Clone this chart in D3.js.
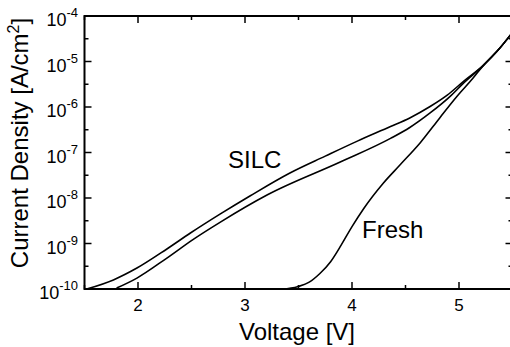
<!DOCTYPE html>
<html>
<head>
<meta charset="utf-8">
<script src="https://cdn.jsdelivr.net/npm/d3@7"></script>
<style>
body { margin: 0; background: #fff; }
svg { display: block; font-family: "Liberation Sans", Arial, sans-serif; }
.line { fill: none; stroke: #000; stroke-width: 1.6; }
</style>
</head>
<body>
<svg id="chart" width="510" height="347"></svg>
<script>
// values (current density as log10 of A/cm2)
var silcUpperV = [1.52, 1.77, 1.99, 2.27, 2.49, 2.77, 3.05, 3.42, 3.75, 4.05, 4.36, 4.54, 4.73, 4.89, 5.04, 5.23, 5.38, 5.48]
var silcUpperLogJ = [-10.0, -9.80, -9.54, -9.12, -8.77, -8.35, -7.95, -7.45, -7.08, -6.75, -6.43, -6.24, -5.99, -5.74, -5.44, -5.08, -4.71, -4.42]

var silcLowerV = [1.80, 1.99, 2.27, 2.51, 2.77, 3.21, 3.89, 4.36, 4.54, 4.73, 4.92, 5.04, 5.23, 5.38, 5.48]
var silcLowerLogJ = [-9.98, -9.76, -9.32, -8.92, -8.53, -7.93, -7.21, -6.69, -6.45, -6.13, -5.76, -5.48, -5.08, -4.71, -4.42]

var freshV = [3.25, 3.36, 3.49, 3.60, 3.70, 3.80, 3.90, 4.00, 4.11, 4.29, 4.45, 4.64, 4.82, 4.98, 5.13, 5.23, 5.38, 5.48]
var freshLogJ = [-10.15, -10.02, -9.95, -9.85, -9.66, -9.40, -9.03, -8.63, -8.23, -7.68, -7.27, -6.78, -6.24, -5.77, -5.37, -5.08, -4.71, -4.42]

var xTicks = [2, 3, 4, 5]
var xMinorTicks = [1.5, 2.5, 3.5, 4.5, 5.5]
var yExponents = [-4, -5, -6, -7, -8, -9, -10]

var plot = { left: 84.5, right: 512.5, top: 16, bottom: 289 }

var svg = d3.select("#chart")

var x = d3.scaleLinear().domain([1.5, 5.5]).range([plot.left, plot.right])
var y = d3.scaleLog().domain([1e-10, 1e-4]).range([plot.bottom, plot.top])

svg.append("clipPath").attr("id", "clip")
    .append("rect")
    .attr("x", plot.left).attr("y", plot.top)
    .attr("width", plot.right - plot.left).attr("height", plot.bottom - plot.top)

var line = d3.line()
    .x(d => x(d[0]))
    .y(d => y(d[1]))
    .curve(d3.curveMonotoneX)

function series(vs, logs) {
    return vs.map((v, i) => [v, Math.pow(10, logs[i])])
}

var curves = svg.append("g").attr("clip-path", "url(#clip)")
curves.append("path").attr("class", "line").attr("d", line(series(silcUpperV, silcUpperLogJ)))
curves.append("path").attr("class", "line").attr("d", line(series(silcLowerV, silcLowerLogJ)))
curves.append("path").attr("class", "line").attr("d", line(series(freshV, freshLogJ)))

// frame
svg.append("rect")
    .attr("x", plot.left).attr("y", plot.top)
    .attr("width", plot.right - plot.left).attr("height", plot.bottom - plot.top)
    .attr("fill", "none").attr("stroke", "#000").attr("stroke-width", 2)

// x ticks (bottom + top, pointing inward)
var ticks = svg.append("g").attr("stroke", "#000").attr("stroke-width", 1.5)
xTicks.forEach(t => {
    ticks.append("line").attr("x1", x(t)).attr("x2", x(t)).attr("y1", plot.bottom).attr("y2", plot.bottom - 7)
    ticks.append("line").attr("x1", x(t)).attr("x2", x(t)).attr("y1", plot.top).attr("y2", plot.top + 7)
})
xMinorTicks.forEach(t => {
    ticks.append("line").attr("x1", x(t)).attr("x2", x(t)).attr("y1", plot.bottom).attr("y2", plot.bottom - 4)
    ticks.append("line").attr("x1", x(t)).attr("x2", x(t)).attr("y1", plot.top).attr("y2", plot.top + 4)
})

// y ticks (left + right)
yExponents.forEach(e => {
    var yy = y(Math.pow(10, e))
    ticks.append("line").attr("x1", plot.left).attr("x2", plot.left + 7).attr("y1", yy).attr("y2", yy)
    ticks.append("line").attr("x1", plot.right).attr("x2", plot.right - 7).attr("y1", yy).attr("y2", yy)
    if (e > -10) {
        var ym = y(Math.pow(10, e - 0.5))
        ticks.append("line").attr("x1", plot.left).attr("x2", plot.left + 4).attr("y1", ym).attr("y2", ym)
        ticks.append("line").attr("x1", plot.right).attr("x2", plot.right - 4).attr("y1", ym).attr("y2", ym)
    }
})

// x tick labels
svg.append("g").selectAll("text").data(xTicks).join("text")
    .attr("x", d => x(d)).attr("y", 311)
    .attr("text-anchor", "middle")
    .attr("font-size", 17)
    .text(d => d)

// y tick labels 10^e
var yl = svg.append("g").selectAll("text").data(yExponents).join("text")
    .attr("x", 78).attr("y", d => y(Math.pow(10, d)) + 10)
    .attr("text-anchor", "end")
    .attr("font-size", 18)
yl.append("tspan").text("10")
yl.append("tspan").attr("dy", -9).attr("font-size", 13).text(d => "-" + Math.abs(d))

// axis titles
svg.append("text")
    .attr("x", 297).attr("y", 340)
    .attr("text-anchor", "middle")
    .attr("font-size", 24)
    .text("Voltage [V]")

var yt = svg.append("text")
    .attr("transform", "translate(28,143) rotate(-90)")
    .attr("text-anchor", "middle")
    .attr("font-size", 24)
yt.append("tspan").text("Current Density [A/cm")
yt.append("tspan").attr("dy", -9).attr("font-size", 16).text("2")
yt.append("tspan").attr("dy", 9).text("]")

// curve labels
svg.append("text").attr("x", 228).attr("y", 168).attr("font-size", 24).text("SILC")
svg.append("text").attr("x", 362).attr("y", 238).attr("font-size", 24).text("Fresh")
</script>
</body>
</html>
